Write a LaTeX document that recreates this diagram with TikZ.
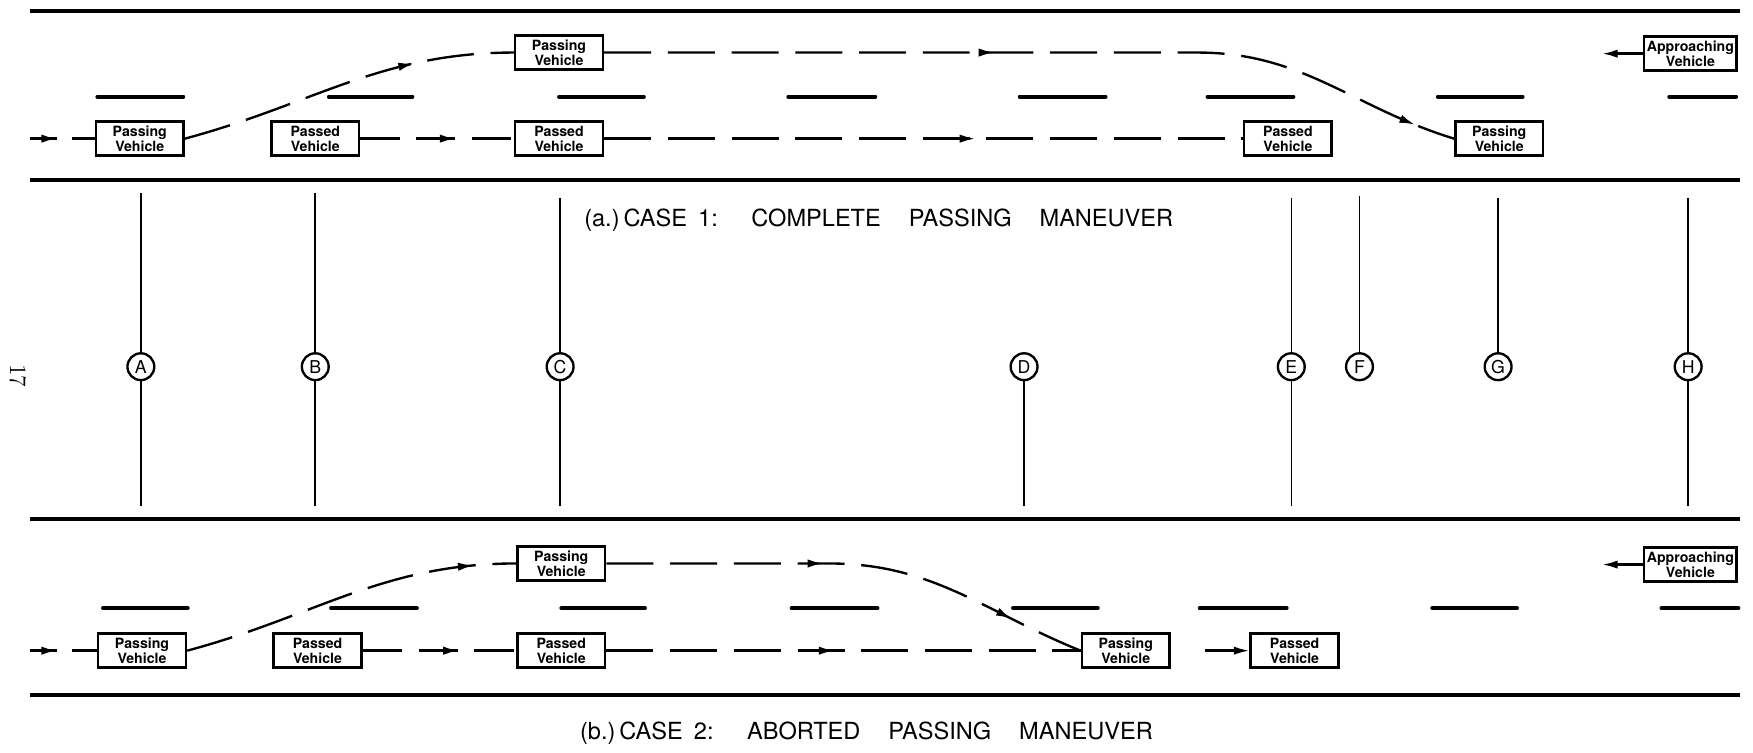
\documentclass[tikz,border=0pt]{standalone}
\usepackage{fontspec}
\setsansfont{TeX Gyre Heros}
\usetikzlibrary{arrows.meta,decorations.markings}

\begin{document}
\begin{tikzpicture}[x=0.02cm, y=0.02cm,
  arrowat/.style={postaction={decorate,decoration={markings,mark=at position #1 with {\arrow{Latex[length=2.8mm,width=1.5mm]}}}}}]
\tikzstyle{every node}+=[inner sep=0pt]
\tikzstyle{vehicle}=[draw, line width=1.35pt, minimum width=1.57cm, minimum height=0.61cm, align=center, font=\sffamily\bfseries\fontsize{7.2}{7.6}\selectfont]
\tikzstyle{roadedge}=[line width=2pt]
\tikzstyle{lanemark}=[line width=1.9pt, line cap=round]
\tikzstyle{track}=[line width=1.2pt, dash pattern=on 0.84cm off 0.3cm]
\tikzstyle{endarrow}=[line width=1.2pt, -{Latex[length=2.8mm,width=1.5mm]}]
\tikzstyle{station}=[draw, circle, line width=1.2pt, minimum size=0.48cm, font=\sffamily\fontsize{9}{9}\selectfont]
\tikzstyle{stationline}=[line width=0.8pt]
\tikzstyle{caption}=[font=\sffamily\fontsize{12}{12}\selectfont]
\useasboundingbox (0,0) rectangle (1568,-673);
% case 1 road
\draw [roadedge] (27,-10) -- (1556,-10);
\draw [roadedge] (27,-161) -- (1556,-161);
\draw [lanemark] (87,-86.5) -- (164,-86.5);
\draw [lanemark] (294,-86.5) -- (369,-86.5);
\draw [lanemark] (500,-86.5) -- (576,-86.5);
\draw [lanemark] (705,-86.5) -- (783,-86.5);
\draw [lanemark] (912,-86.5) -- (989,-86.5);
\draw [lanemark] (1080,-86.5) -- (1157,-86.5);
\draw [lanemark] (1286,-86.5) -- (1362,-86.5);
\draw [lanemark] (1493,-86.5) -- (1553,-86.5);
% case 1 vehicles
\node [vehicle] (aPassA) at (125,-124) {Passing\\Vehicle};
\node [vehicle] (aPassedB) at (282,-124) {Passed\\Vehicle};
\node [vehicle] (aPassedC) at (500,-124) {Passed\\Vehicle};
\node [vehicle] (aPassedE) at (1152,-124) {Passed\\Vehicle};
\node [vehicle] (aPassG) at (1341,-124) {Passing\\Vehicle};
\node [vehicle] (aPassC) at (500,-47) {Passing\\Vehicle};
\node [vehicle, minimum width=1.66cm] (aApproach) at (1512,-48) {Approaching\\Vehicle};
\coordinate (aStart) at (27,-124);
\coordinate (aOncoming) at (1433,-48);
\draw [track, dash pattern=on 0.48cm off 0.26cm, arrowat=0.48cm] (aStart) -- (aPassA.west);
\draw [track, arrowat=-1.8cm] (aPassA.east) to[out=15,in=180] (aPassC.west);
\draw [track, dash pattern=on 0.7cm off 0.3cm, arrowat=1.7cm] (aPassedB.east) -- (aPassedC.west);
\draw [track, arrowat=6.64cm] (aPassedC.east) -- (aPassedE.west);
\draw [track, arrowat=6.98cm, arrowat=-0.74cm] (aPassC.east) -- ++(531,0) to[out=0,in=163] (aPassG.west);
\draw [endarrow] (aApproach.west) -- (aOncoming);
\node [caption] (capA) at (786,-197) {(a.)\,CASE\hspace{0.2cm}1:\hspace{0.6cm}COMPLETE\hspace{0.5cm}PASSING\hspace{0.5cm}MANEUVER};
% stations
\node [rotate=-90, font=\rmfamily\fontsize{12}{12}\selectfont] (pageNo) at (16,-336) {17};
\node [station] (cA) at (126,-328) {A};
\node [station] (cB) at (282,-328) {B};
\node [station] (cC) at (501,-328) {C};
\node [station] (cD) at (916,-328) {D};
\node [station] (cE) at (1155,-328) {E};
\node [station] (cF) at (1216,-328) {F};
\node [station] (cG) at (1340,-328) {G};
\node [station] (cH) at (1510,-328) {H};
\coordinate (cAtop) at (126,-173);
\coordinate (cAbot) at (126,-453);
\coordinate (cBtop) at (282,-173);
\coordinate (cBbot) at (282,-453);
\coordinate (cCtop) at (501,-177);
\coordinate (cCbot) at (501,-453);
\coordinate (cDbot) at (916,-453);
\coordinate (cEtop) at (1155,-177);
\coordinate (cEbot) at (1155,-453);
\coordinate (cFtop) at (1216,-175);
\coordinate (cGtop) at (1340,-177);
\coordinate (cHtop) at (1510,-177);
\coordinate (cHbot) at (1510,-453);
\draw [stationline] (cAtop) -- (cA) -- (cAbot);
\draw [stationline] (cBtop) -- (cB) -- (cBbot);
\draw [stationline] (cCtop) -- (cC) -- (cCbot);
\draw [stationline] (cD) -- (cDbot);
\draw [stationline] (cEtop) -- (cE) -- (cEbot);
\draw [stationline] (cFtop) -- (cF);
\draw [stationline] (cGtop) -- (cG);
\draw [stationline] (cHtop) -- (cH) -- (cHbot);
% case 2 road
\draw [roadedge] (27,-464) -- (1556,-464);
\draw [roadedge] (27,-622) -- (1556,-622);
\draw [lanemark] (92,-544) -- (168,-544);
\draw [lanemark] (296,-544) -- (373,-544);
\draw [lanemark] (502,-544) -- (577,-544);
\draw [lanemark] (708,-544) -- (785,-544);
\draw [lanemark] (906,-544) -- (982,-544);
\draw [lanemark] (1073,-544) -- (1151,-544);
\draw [lanemark] (1281,-544) -- (1357,-544);
\draw [lanemark] (1486,-544) -- (1555,-544);
% case 2 vehicles
\node [vehicle] (bPassA) at (127,-582) {Passing\\Vehicle};
\node [vehicle] (bPassedB) at (284,-582) {Passed\\Vehicle};
\node [vehicle] (bPassedC) at (502,-582) {Passed\\Vehicle};
\node [vehicle] (bPassC) at (502,-504) {Passing\\Vehicle};
\node [vehicle] (bPassD) at (1007,-582) {Passing\\Vehicle};
\node [vehicle] (bPassedE) at (1158,-582) {Passed\\Vehicle};
\node [vehicle, minimum width=1.66cm] (bApproach) at (1512,-505) {Approaching\\Vehicle};
\coordinate (bStart) at (27,-582);
\coordinate (bOncoming) at (1433,-505);
\coordinate (bPush) at (1078,-582);
\draw [track, dash pattern=on 0.48cm off 0.26cm, arrowat=0.48cm] (bStart) -- (bPassA.west);
\draw [track, arrowat=-0.76cm] (bPassA.east) to[out=15,in=180] (bPassC.west);
\draw [track, dash pattern=on 0.7cm off 0.3cm, arrowat=1.72cm] (bPassedB.east) -- (bPassedC.west);
\draw [track, arrowat=4.08cm] (bPassedC.east) -- (bPassD.west);
\draw [track, arrowat=3.88cm, arrowat=-1.36cm] (bPassC.east) -- ++(199,0) to[out=0,in=158] (bPassD.west);
\draw [endarrow] (bPush) -- (bPassedE.west);
\draw [endarrow] (bApproach.west) -- (bOncoming);
\node [caption] (capB) at (775,-656) {(b.)\,CASE\hspace{0.2cm}2:\hspace{0.6cm}ABORTED\hspace{0.5cm}PASSING\hspace{0.5cm}MANEUVER};
\end{tikzpicture}
\end{document}
